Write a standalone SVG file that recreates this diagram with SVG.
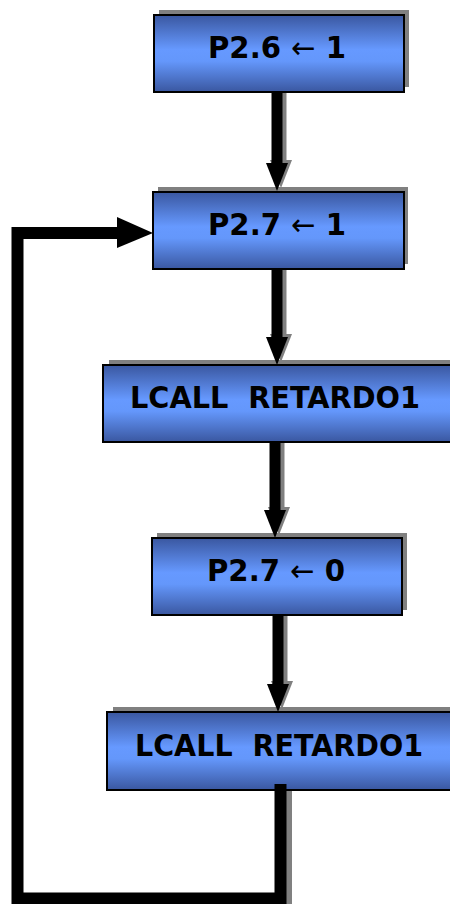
<svg xmlns="http://www.w3.org/2000/svg" width="450" height="904" viewBox="0 0 450 904">
<defs>
<linearGradient id="g" x1="0" y1="0" x2="0" y2="1">
<stop offset="0" stop-color="#3a57a0"/>
<stop offset="0.45" stop-color="#6699ff"/>
<stop offset="0.6" stop-color="#6497fb"/>
<stop offset="1" stop-color="#3a57a0"/>
</linearGradient>
<style>
.sh{fill:#808080}
.bx{fill:url(#g);stroke:#000;stroke-width:2}
.t{font-family:"DejaVu Sans",Verdana,sans-serif;font-weight:bold;font-size:30px;fill:#000;text-anchor:middle}
.ar{font-weight:normal}
.ln{fill:none;stroke:#000;stroke-width:11;stroke-linejoin:miter;stroke-linecap:butt}
.lns{fill:none;stroke:#808080;stroke-width:11}
</style>
</defs>
<rect width="450" height="904" fill="#fff"/>
<g id="shadows">
<rect class="sh" x="159" y="10" width="250" height="77"/>
<rect class="sh" x="158" y="187" width="250" height="77"/>
<rect class="sh" x="109" y="360" width="345" height="77"/>
<rect class="sh" x="157" y="533" width="250" height="77"/>
<rect class="sh" x="113" y="707" width="345" height="78"/>
</g>
<g id="connectors">
<g transform="translate(4,-3)">
<line class="lns" x1="277" y1="92" x2="277" y2="164"/>
<polygon class="sh" points="266,163 288,163 277,191"/>
<line class="lns" x1="277" y1="269" x2="277" y2="338"/>
<polygon class="sh" points="266,337 288,337 277,365"/>
<line class="lns" x1="275" y1="442" x2="275" y2="511"/>
<polygon class="sh" points="264,510 286,510 275,538"/>
<line class="lns" x1="278" y1="614" x2="278" y2="685"/>
<polygon class="sh" points="267,684 289,684 278,712"/>
</g>
<rect class="sh" x="286" y="790" width="6" height="114"/>
</g>
<g id="n1">
<rect class="bx" x="154" y="15" width="250" height="77"/>
<text class="t" x="277" y="58" textLength="138" lengthAdjust="spacingAndGlyphs">P2.6 <tspan class="ar">←</tspan> 1</text>
</g>
<g id="n2">
<rect class="bx" x="153" y="192" width="251" height="77"/>
<text class="t" x="277" y="235" textLength="138" lengthAdjust="spacingAndGlyphs">P2.7 <tspan class="ar">←</tspan> 1</text>
</g>
<g id="n3">
<rect class="bx" x="103" y="365" width="350" height="77"/>
<text class="t" x="275" y="408" textLength="290" lengthAdjust="spacingAndGlyphs">LCALL&#160; RETARDO1</text>
</g>
<g id="n4">
<rect class="bx" x="152" y="538" width="250" height="77"/>
<text class="t" x="276" y="581" textLength="138" lengthAdjust="spacingAndGlyphs">P2.7 <tspan class="ar">←</tspan> 0</text>
</g>
<g id="n5">
<rect class="bx" x="107" y="712" width="350" height="78"/>
<text class="t" x="279" y="756" textLength="288" lengthAdjust="spacingAndGlyphs">LCALL&#160; RETARDO1</text>
</g>
<g id="arrows">
<line class="ln" x1="277" y1="93" x2="277" y2="164"/>
<polygon points="266,163 288,163 277,191"/>
<line class="ln" x1="277" y1="270" x2="277" y2="338"/>
<polygon points="266,337 288,337 277,365"/>
<line class="ln" x1="275" y1="443" x2="275" y2="511"/>
<polygon points="264,510 286,510 275,538"/>
<line class="ln" x1="278" y1="615" x2="278" y2="685"/>
<polygon points="267,684 289,684 278,712"/>
<path class="ln" style="stroke-width:12" d="M280.5 784 V898.5 H17.5 V233 H118"/>
<polygon points="117,217 153,233 117,248"/>
</g>
</svg>
